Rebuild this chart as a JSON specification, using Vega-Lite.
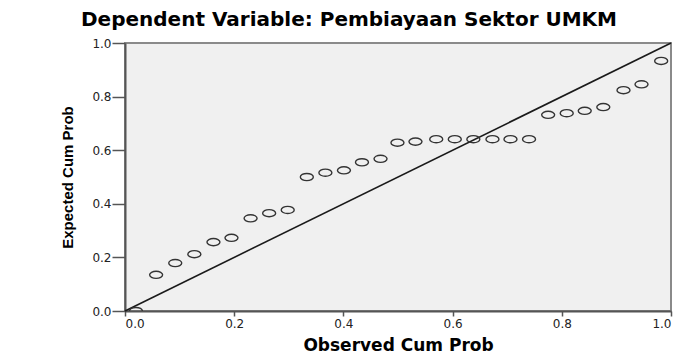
{
  "$schema": "https://vega.github.io/schema/vega-lite/v6.json",
  "autosize": "none",
  "width": 546,
  "height": 268,
  "padding": {"left": 125, "top": 43, "right": 21, "bottom": 43},
  "background": "white",
  "title": {
    "text": "Dependent Variable: Pembiayaan Sektor UMKM",
    "font": "DejaVu Sans",
    "fontSize": 20,
    "fontWeight": "bold",
    "color": "black",
    "anchor": "middle",
    "frame": "group",
    "dx": -49,
    "offset": 7
  },
  "config": {
    "view": {"fill": "#f0f0f0", "stroke": "#8a8a8a", "strokeWidth": 2},
    "axis": {
      "grid": false,
      "labelFont": "DejaVu Sans",
      "labelFontSize": 12,
      "labelColor": "#222",
      "titleFont": "DejaVu Sans",
      "titleFontWeight": "bold",
      "titleColor": "black",
      "domainColor": "#555",
      "domainWidth": 2,
      "tickColor": "#555",
      "tickWidth": 1.5
    }
  },
  "datasets": {
    "pp": [
      {"observed": 0.020, "expected": 0.000},
      {"observed": 0.057, "expected": 0.135},
      {"observed": 0.092, "expected": 0.179},
      {"observed": 0.127, "expected": 0.212},
      {"observed": 0.162, "expected": 0.257},
      {"observed": 0.195, "expected": 0.273},
      {"observed": 0.230, "expected": 0.346},
      {"observed": 0.264, "expected": 0.365},
      {"observed": 0.298, "expected": 0.377},
      {"observed": 0.333, "expected": 0.500},
      {"observed": 0.367, "expected": 0.516},
      {"observed": 0.401, "expected": 0.525},
      {"observed": 0.434, "expected": 0.555},
      {"observed": 0.468, "expected": 0.568},
      {"observed": 0.499, "expected": 0.628},
      {"observed": 0.532, "expected": 0.632},
      {"observed": 0.570, "expected": 0.641},
      {"observed": 0.604, "expected": 0.641},
      {"observed": 0.638, "expected": 0.641},
      {"observed": 0.673, "expected": 0.641},
      {"observed": 0.706, "expected": 0.641},
      {"observed": 0.740, "expected": 0.641},
      {"observed": 0.775, "expected": 0.732},
      {"observed": 0.809, "expected": 0.738},
      {"observed": 0.842, "expected": 0.747},
      {"observed": 0.876, "expected": 0.761},
      {"observed": 0.913, "expected": 0.824},
      {"observed": 0.946, "expected": 0.846},
      {"observed": 0.982, "expected": 0.933}
    ],
    "diag": [
      {"x": 0, "y": 0, "x2": 1, "y2": 1}
    ]
  },
  "layer": [
    {
      "data": {"name": "diag"},
      "mark": {"type": "rule", "color": "#1a1a1a", "strokeWidth": 1.6},
      "encoding": {
        "x": {"field": "x", "type": "quantitative", "scale": {"domain": [0, 1], "nice": false}},
        "y": {"field": "y", "type": "quantitative", "scale": {"domain": [0, 1], "nice": false}},
        "x2": {"field": "x2"},
        "y2": {"field": "y2"}
      }
    },
    {
      "data": {"name": "pp"},
      "mark": {
        "type": "point",
        "filled": false,
        "shape": "M -1 0 A 1 0.55 0 1 0 1 0 A 1 0.55 0 1 0 -1 0 Z",
        "size": 169,
        "stroke": "#333",
        "strokeWidth": 1.4,
        "opacity": 1,
        "clip": true
      },
      "encoding": {
        "x": {
          "field": "observed",
          "type": "quantitative",
          "scale": {"domain": [0, 1], "nice": false},
          "axis": {
            "title": "Observed Cum Prob",
            "titleFontSize": 17,
            "titlePadding": 8,
            "values": [0, 0.2, 0.4, 0.6, 0.8, 1.0],
            "format": ".1f",
            "tickSize": 5,
            "labelPadding": 2
          }
        },
        "y": {
          "field": "expected",
          "type": "quantitative",
          "scale": {"domain": [0, 1], "nice": false},
          "axis": {
            "title": "Expected Cum Prob",
            "titleFont": "Liberation Sans",
            "titleFontSize": 15,
            "titlePadding": 16,
            "values": [0, 0.2, 0.4, 0.6, 0.8, 1.0],
            "format": ".1f",
            "tickSize": 13,
            "labelPadding": 1
          }
        }
      }
    }
  ]
}
